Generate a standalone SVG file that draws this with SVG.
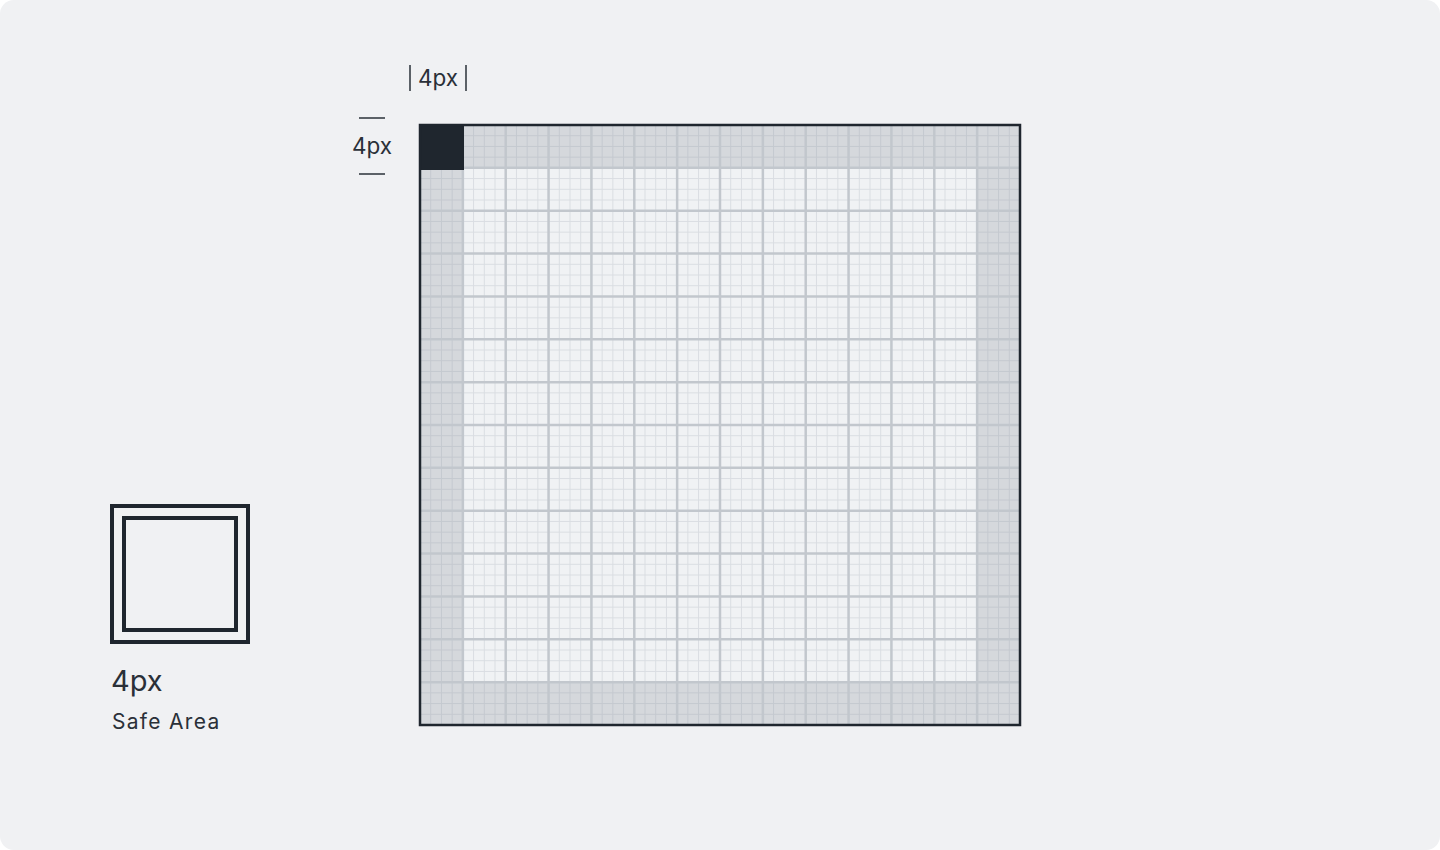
<svg xmlns="http://www.w3.org/2000/svg" width="1440" height="850" viewBox="0 0 1440 850">
  <style>
    .lbl { font-family: Inter, Roboto, "Liberation Sans", Arial, sans-serif; fill: #2a3038; }
    .tick { stroke: #2a3038; stroke-width: 1.5; }
    .major { stroke: #c2c7cd; stroke-width: 2.5; fill: none; }
    .box { fill: none; stroke: #1f262e; stroke-width: 4; }
  </style>
  <defs>
    <pattern id="minor" patternUnits="userSpaceOnUse" x="414.642857" y="119.642857" width="10.714286" height="10.714286">
      <path d="M5.357143 0 V10.714286 M0 5.357143 H10.714286" stroke="#8a939e" stroke-opacity="0.22" stroke-width="1" fill="none"/>
    </pattern>
  </defs>
  <rect x="0" y="0" width="1440" height="850" fill="#ffffff"/>
  <rect x="0" y="0" width="1440" height="850" rx="14" ry="14" fill="#f0f1f3"/>

  <g id="grid">
    <rect x="420" y="125" width="600" height="600" fill="#d5d8dc"/>
    <rect x="462.857" y="167.857" width="514.286" height="514.286" fill="#f0f2f4"/>
    <rect x="420" y="125" width="600" height="600" fill="url(#minor)"/>
    <path class="major" d="M462.86 125V725M505.71 125V725M548.57 125V725M591.43 125V725M634.29 125V725M677.14 125V725M720 125V725M762.86 125V725M805.71 125V725M848.57 125V725M891.43 125V725M934.29 125V725M977.14 125V725
      M420 167.86H1020M420 210.71H1020M420 253.57H1020M420 296.43H1020M420 339.29H1020M420 382.14H1020M420 425H1020M420 467.86H1020M420 510.71H1020M420 553.57H1020M420 596.43H1020M420 639.29H1020M420 682.14H1020"/>
    <rect id="unit" x="420" y="125" width="44" height="45" fill="#1f262e"/>
    <rect x="420" y="125" width="600" height="600" fill="none" stroke="#1f262e" stroke-width="2.5"/>
  </g>

  <g id="dim-top">
    <line class="tick" x1="410" y1="65" x2="410" y2="91"/>
    <line class="tick" x1="466" y1="65" x2="466" y2="91"/>
    <text class="lbl" x="438" y="86" font-size="22.5" text-anchor="middle">4px</text>
  </g>
  <g id="dim-left">
    <line class="tick" x1="359" y1="118" x2="385" y2="118"/>
    <line class="tick" x1="359" y1="174" x2="385" y2="174"/>
    <text class="lbl" x="372" y="154" font-size="22.5" text-anchor="middle">4px</text>
  </g>

  <g id="legend">
    <rect class="box" x="112" y="506" width="136" height="136"/>
    <rect class="box" x="124" y="518" width="112" height="112"/>
    <text class="lbl" x="111" y="691" font-size="29" fill="#1f262e">4px</text>
    <text class="lbl" x="112" y="729" font-size="21" letter-spacing="1.3">Safe Area</text>
  </g>
</svg>
